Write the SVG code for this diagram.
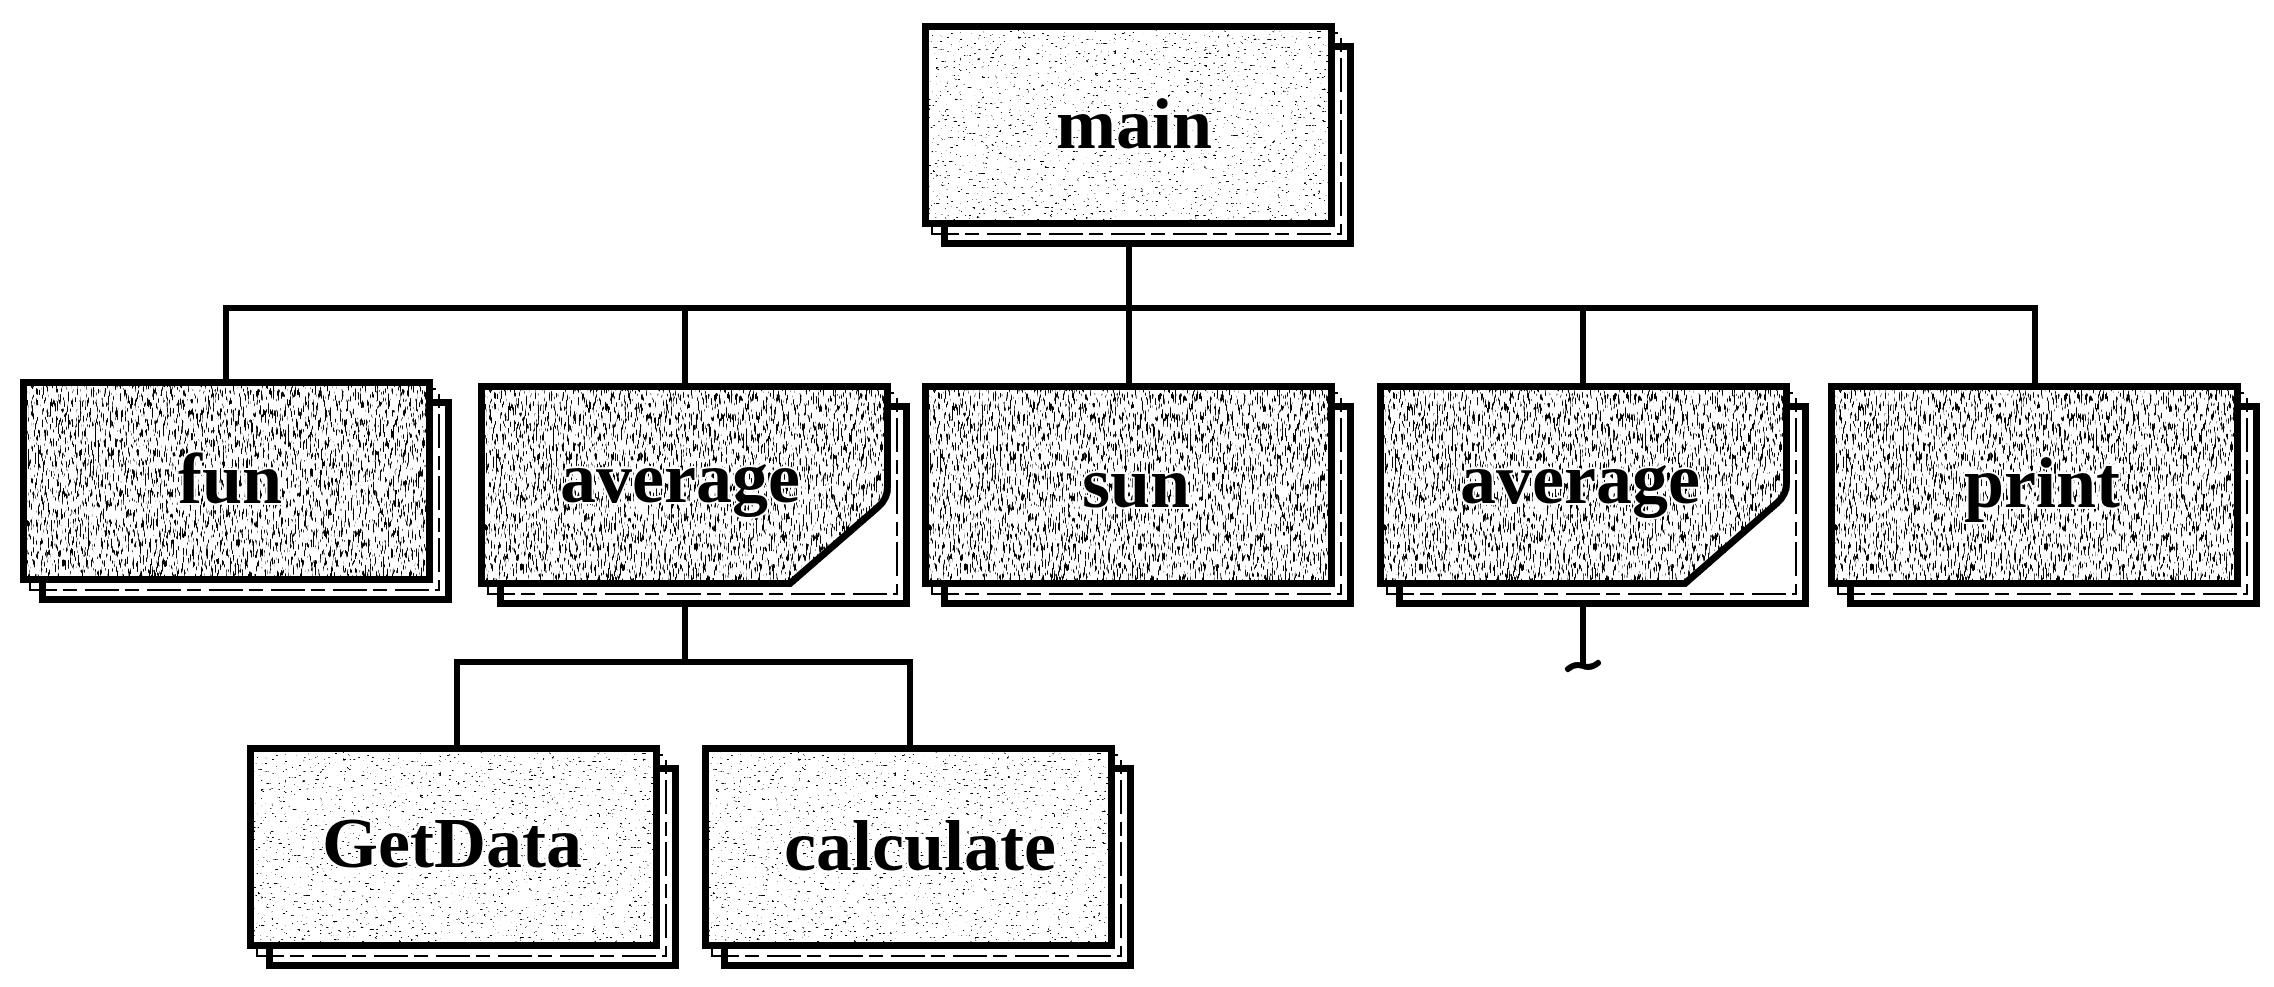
<svg xmlns="http://www.w3.org/2000/svg" width="2274" height="987" viewBox="0 0 2274 987">
  <defs>
    <filter id="texDense" x="-2%" y="-2%" width="104%" height="104%" color-interpolation-filters="sRGB">
      <feTurbulence type="fractalNoise" baseFrequency="0.6 0.1" numOctaves="2" seed="7" result="noise"/>
      <feColorMatrix in="noise" type="matrix" values="0 0 0 0 0  0 0 0 0 0  0 0 0 0 0  14 0 0 0 -8.0" result="dots"/>
      <feComposite in="dots" in2="SourceAlpha" operator="in" result="clipped"/>
      <feMerge><feMergeNode in="SourceGraphic"/><feMergeNode in="clipped"/></feMerge>
    </filter>
    <filter id="texLight" x="-2%" y="-2%" width="104%" height="104%" color-interpolation-filters="sRGB">
      <feTurbulence type="fractalNoise" baseFrequency="0.22 0.5" numOctaves="2" seed="3" result="noise"/>
      <feColorMatrix in="noise" type="matrix" values="0 0 0 0 0  0 0 0 0 0  0 0 0 0 0  16 0 0 0 -11.2" result="dots"/>
      <feComposite in="dots" in2="SourceAlpha" operator="in" result="clipped"/>
      <feMerge><feMergeNode in="SourceGraphic"/><feMergeNode in="clipped"/></feMerge>
    </filter>
  </defs>
  <style>
    .shadow { fill: #ffffff; stroke: #000000; stroke-width: 7; }
    .inner { fill: none; stroke: #000000; stroke-width: 2; stroke-dasharray: 34 8 14 6; }
    .box { fill: #ffffff; stroke: #000000; stroke-width: 7; stroke-linejoin: miter; }
    .dense { filter: url(#texDense); }
    .light { filter: url(#texLight); }
    .label { font-family: "Liberation Serif", "Times New Roman", serif; font-weight: bold; font-size: 72px; fill: #000000; text-anchor: middle; stroke: #ffffff; stroke-width: 4; stroke-linejoin: round; paint-order: stroke; }
    .conn { fill: none; stroke: #000000; stroke-width: 6; stroke-linecap: square; }
  </style>
  <rect x="0" y="0" width="2274" height="987" fill="#ffffff"/>

  <g id="connectors">
    <path class="conn" d="M1129,227 V308"/>
    <path class="conn" d="M226,308 H2035"/>
    <path class="conn" d="M226,308 V379"/>
    <path class="conn" d="M685,308 V383"/>
    <path class="conn" d="M1129,308 V383"/>
    <path class="conn" d="M1583,308 V383"/>
    <path class="conn" d="M2035,308 V383"/>
    <path class="conn" d="M685,600 V662"/>
    <path class="conn" d="M457,662 H910"/>
    <path class="conn" d="M457,662 V745"/>
    <path class="conn" d="M910,662 V745"/>
    <path class="conn" d="M1583,600 V664"/>
    <path fill="none" stroke="#000000" stroke-width="6" stroke-linecap="round" d="M1568,669 q7,-6 15,-3 q8,3 15,-3"/>
  </g>

  <g id="node-main" transform="translate(922,23)">
    <rect class="shadow" x="22.5" y="23.5" width="406" height="197"/>
    <rect class="inner" x="10" y="10" width="409" height="201"/>
    <rect class="box light" x="3.5" y="3.5" width="406" height="197"/>
    <text class="label" x="212" y="125">main</text>
  </g>

  <g id="node-fun" transform="translate(20,379)">
    <rect class="shadow" x="22.5" y="23.5" width="406" height="197"/>
    <rect class="inner" x="10" y="10" width="409" height="201"/>
    <rect class="box dense" x="3.5" y="3.5" width="406" height="197"/>
    <text class="label" x="210" y="124">fun</text>
  </g>

  <g id="node-average-1" transform="translate(478,383)">
    <rect class="shadow" x="22.5" y="23.5" width="406" height="197"/>
    <rect class="inner" x="10" y="10" width="409" height="201"/>
    <path class="box dense" d="M3.5,3.5 H409.5 V104 Q409.5,116 400,124 L312,200.5 H3.5 Z"/>
    <text class="label" x="202" y="119">average</text>
  </g>

  <g id="node-sun" transform="translate(922,383)">
    <rect class="shadow" x="22.5" y="23.5" width="406" height="197"/>
    <rect class="inner" x="10" y="10" width="409" height="201"/>
    <rect class="box dense" x="3.5" y="3.5" width="406" height="197"/>
    <text class="label" x="214" y="124">sun</text>
  </g>

  <g id="node-average-2" transform="translate(1377,383)">
    <rect class="shadow" x="22.5" y="23.5" width="406" height="197"/>
    <rect class="inner" x="10" y="10" width="409" height="201"/>
    <path class="box dense" d="M3.5,3.5 H409.5 V100 Q409.5,112 400,120 L308,200.5 H3.5 Z"/>
    <text class="label" x="203" y="120">average</text>
  </g>

  <g id="node-print" transform="translate(1828,383)">
    <rect class="shadow" x="22.5" y="23.5" width="406" height="197"/>
    <rect class="inner" x="10" y="10" width="409" height="201"/>
    <rect class="box dense" x="3.5" y="3.5" width="406" height="197"/>
    <text class="label" x="214" y="124">print</text>
  </g>

  <g id="node-getdata" transform="translate(247,745)">
    <rect class="shadow" x="22.5" y="23.5" width="406" height="197"/>
    <rect class="inner" x="10" y="10" width="409" height="201"/>
    <rect class="box light" x="3.5" y="3.5" width="406" height="197"/>
    <text class="label" x="205" y="122">GetData</text>
  </g>

  <g id="node-calculate" transform="translate(702,745)">
    <rect class="shadow" x="22.5" y="23.5" width="406" height="197"/>
    <rect class="inner" x="10" y="10" width="409" height="201"/>
    <rect class="box light" x="3.5" y="3.5" width="406" height="197"/>
    <text class="label" x="218" y="125">calculate</text>
  </g>
</svg>
